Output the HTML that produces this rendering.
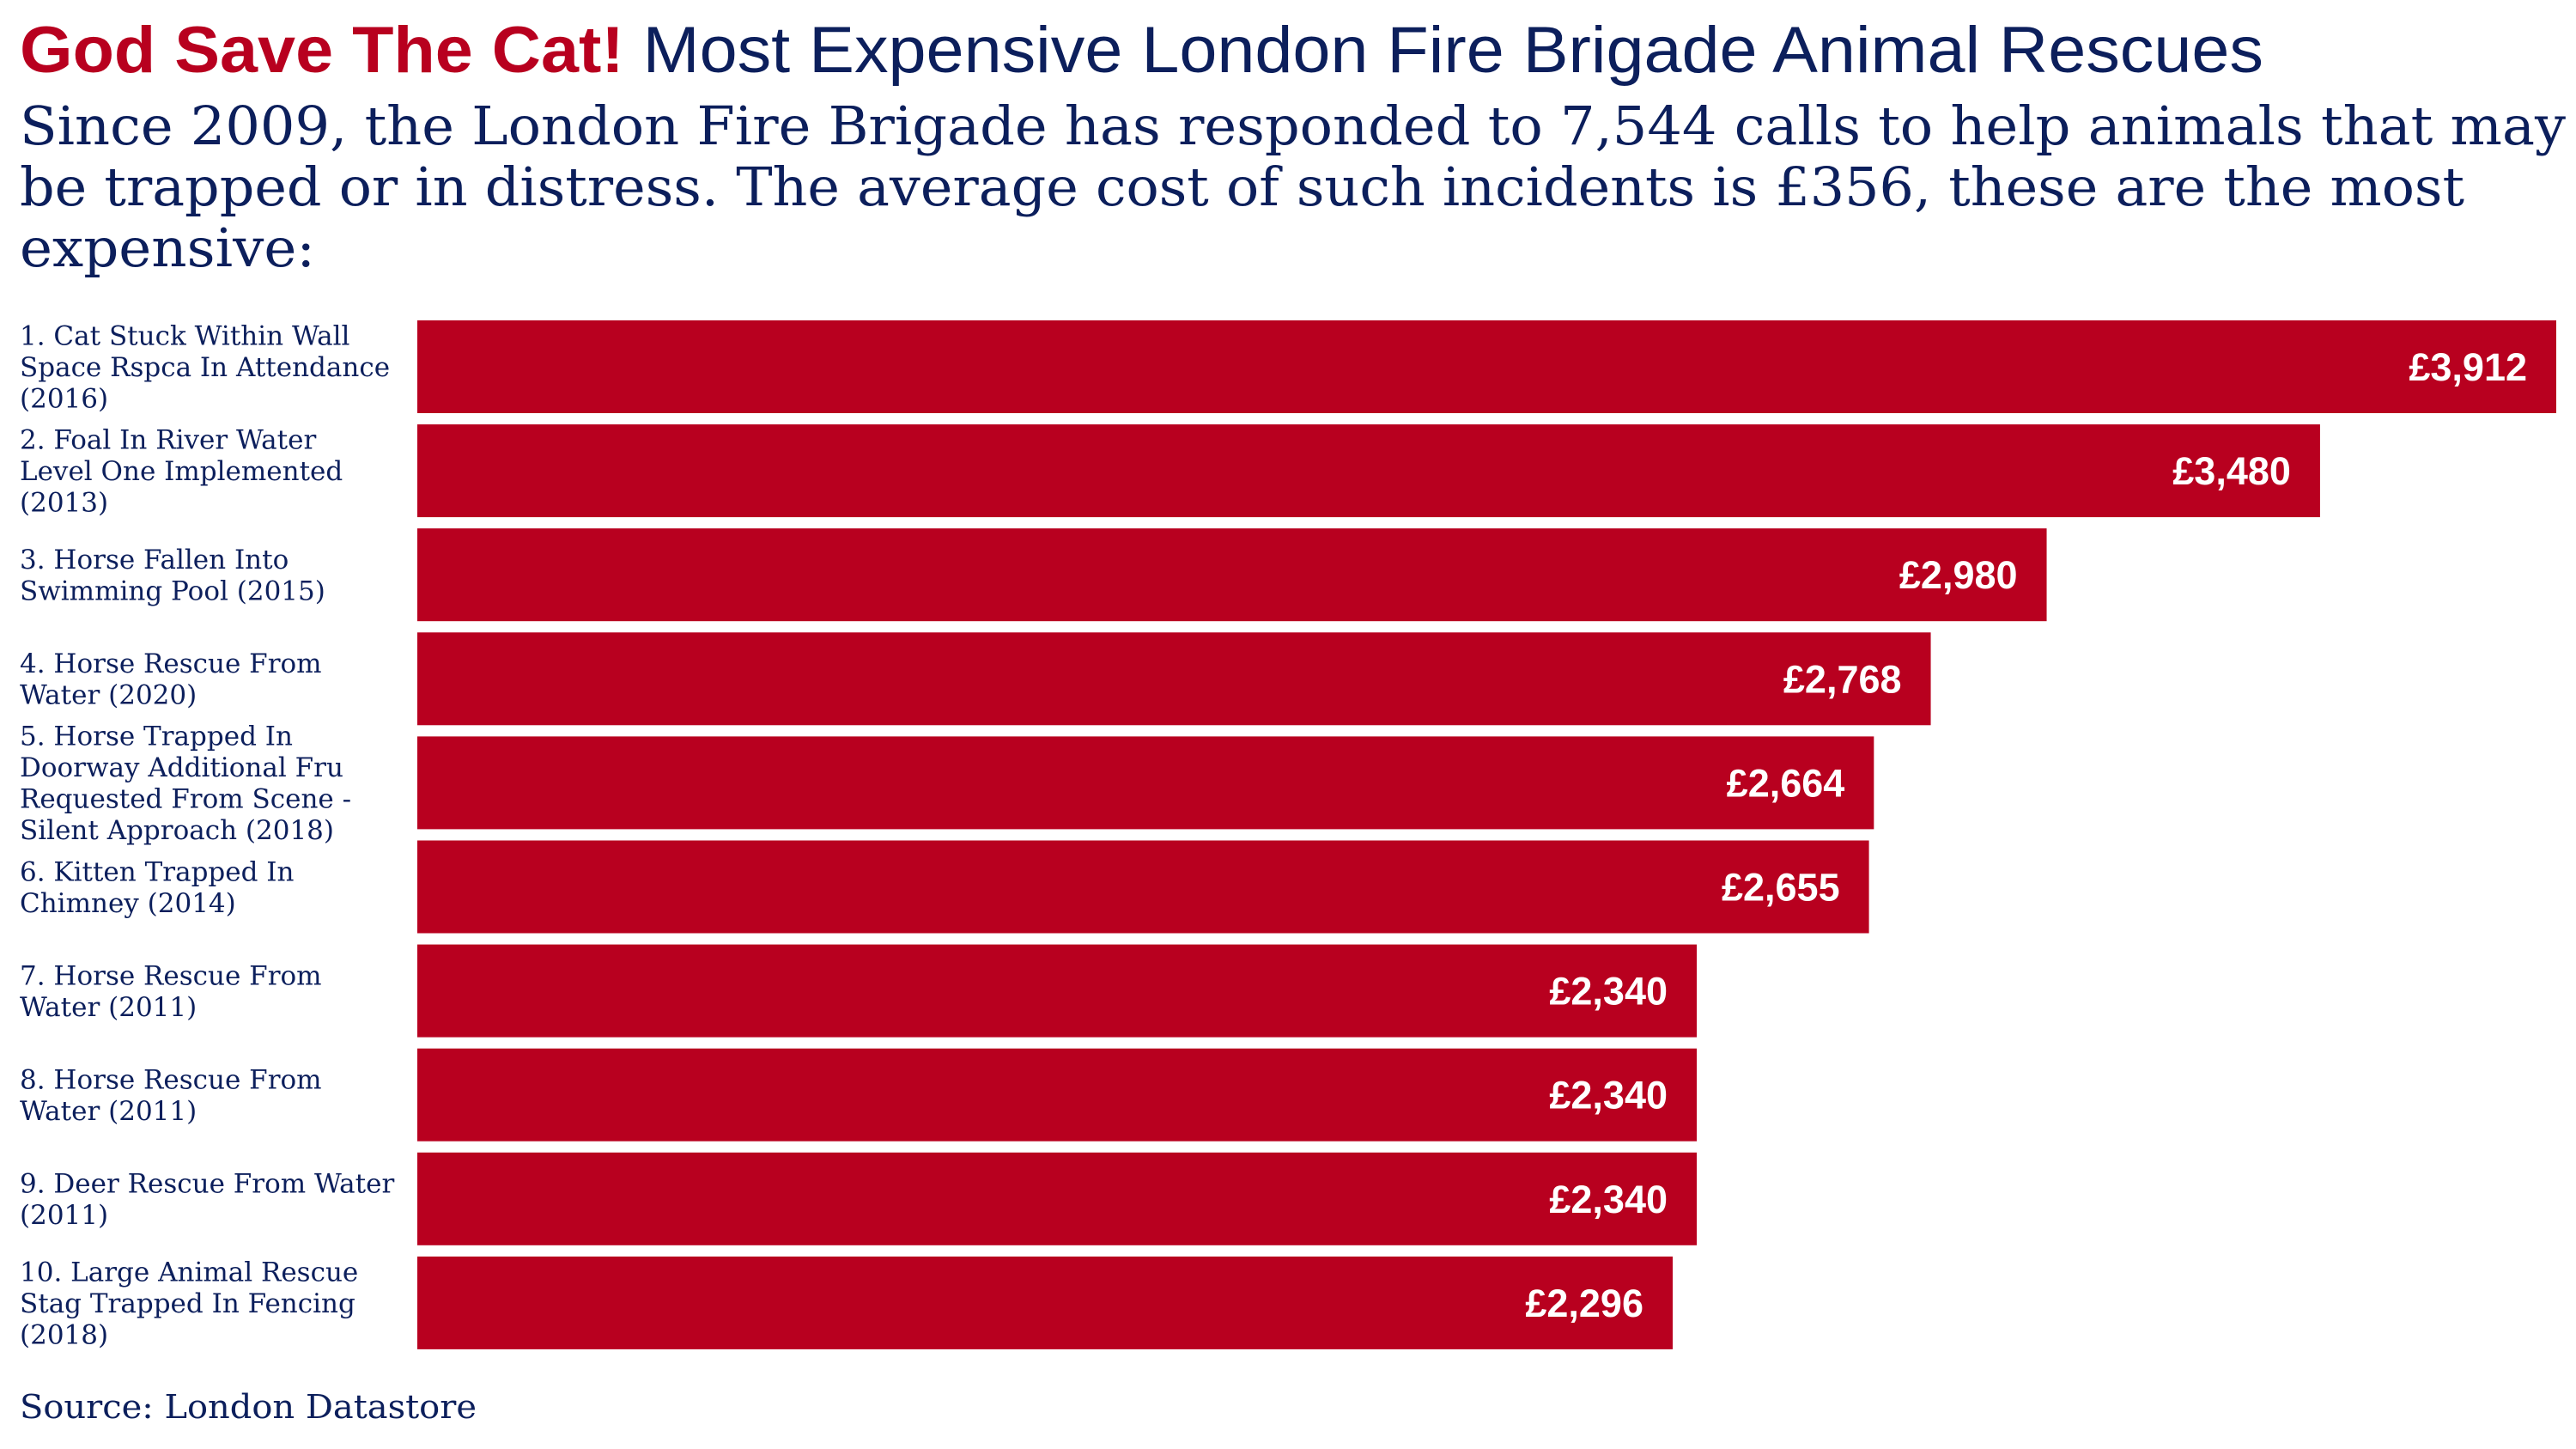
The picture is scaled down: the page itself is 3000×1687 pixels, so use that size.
<!DOCTYPE html>
<html><head><meta charset="utf-8"><style>
html,body{margin:0;padding:0;background:#fff;}
svg{display:block;}
</style></head><body>
<svg id="chart" width="3000" height="1687" viewBox="0 0 3000 1687" xmlns="http://www.w3.org/2000/svg">
<text x="23" y="84" font-family="Liberation Sans, sans-serif" font-size="76" textLength="2613" lengthAdjust="spacingAndGlyphs"><tspan fill="#b8001f" font-weight="bold">God Save The Cat!</tspan><tspan fill="#0c1f5c"> Most Expensive London Fire Brigade Animal Rescues</tspan></text>
<g font-family="DejaVu Serif, serif" font-size="62" fill="#0c1f5c">
<text x="23" y="168" textLength="2965" lengthAdjust="spacingAndGlyphs">Since 2009, the London Fire Brigade has responded to 7,544 calls to help animals that may</text>
<text x="23" y="239" textLength="2847" lengthAdjust="spacingAndGlyphs">be trapped or in distress. The average cost of such incidents is £356, these are the most</text>
<text x="23" y="310" textLength="344" lengthAdjust="spacingAndGlyphs">expensive:</text>
</g>
<g id="bars"></g>
<g id="labels"></g>
<text x="23" y="1651" font-family="DejaVu Serif, serif" font-size="38" fill="#0c1f5c" textLength="532" lengthAdjust="spacingAndGlyphs">Source: London Datastore</text>
</svg>
<script>
const categories = [
 ["1. Cat Stuck Within Wall","Space Rspca In Attendance","(2016)"],
 ["2. Foal In River Water","Level One Implemented","(2013)"],
 ["3. Horse Fallen Into","Swimming Pool (2015)"],
 ["4. Horse Rescue From","Water (2020)"],
 ["5. Horse Trapped In","Doorway Additional Fru","Requested From Scene -","Silent Approach (2018)"],
 ["6. Kitten Trapped In","Chimney (2014)"],
 ["7. Horse Rescue From","Water (2011)"],
 ["8. Horse Rescue From","Water (2011)"],
 ["9. Deer Rescue From Water","(2011)"],
 ["10. Large Animal Rescue","Stag Trapped In Fencing","(2018)"]
];
const values = [3912,3480,2980,2768,2664,2655,2340,2340,2340,2296];
const valueLabels = ["£3,912","£3,480","£2,980","£2,768","£2,664","£2,655","£2,340","£2,340","£2,340","£2,296"];

const NS="http://www.w3.org/2000/svg";
const x0=486, xMaxPx=2977, maxV=Math.max(...values);
const xScale=v=>x0+(v/maxV)*(xMaxPx-x0);
const top0=373, pitch=121.1, bh=108;
const yScale=i=>top0+i*pitch;
const barsG=document.getElementById('bars'), labG=document.getElementById('labels');
values.forEach((v,i)=>{
  const y=yScale(i), xe=xScale(v);
  const r=document.createElementNS(NS,'rect');
  r.setAttribute('x',x0);r.setAttribute('y',y);r.setAttribute('width',xe-x0);r.setAttribute('height',bh);
  r.setAttribute('fill','#b8001f');
  
  
  barsG.appendChild(r);
  const t=document.createElementNS(NS,'text');
  t.setAttribute('x',xe-34);t.setAttribute('y',y+bh/2+16);
  t.setAttribute('text-anchor','end');t.setAttribute('fill','#fff');
  t.setAttribute('font-family','Liberation Sans, sans-serif');t.setAttribute('font-weight','bold');t.setAttribute('font-size','45');
  t.textContent=valueLabels[i];
  
  
  barsG.appendChild(t);
  const lines=categories[i], lh=36.5;
  const cy=y+bh/2;
  const first=cy-(lines.length-1)*lh/2+11;
  const lt=document.createElementNS(NS,'text');
  lt.setAttribute('font-family','DejaVu Serif, serif');lt.setAttribute('font-size','31');lt.setAttribute('fill','#0c1f5c');
  
  
  lines.forEach((s,k)=>{
    const ts=document.createElementNS(NS,'tspan');
    ts.setAttribute('x',23);ts.setAttribute('y',first+k*lh);
    ts.textContent=s;lt.appendChild(ts);
  });
  labG.appendChild(lt);
});
</script>
</body></html>
